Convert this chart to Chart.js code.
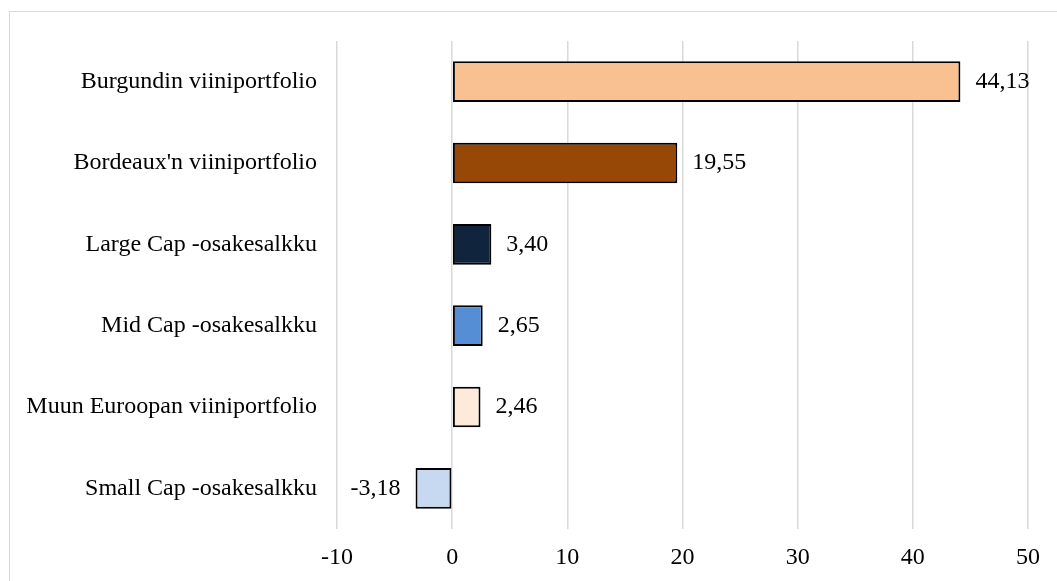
<!DOCTYPE html>
<html>
<head>
<meta charset="utf-8">
<script src="https://cdn.jsdelivr.net/npm/chart.js@4"></script>
<style>
  body { margin: 0; background: #fff; }
  #wrap { position: relative; width: 1057px; height: 581px; overflow: hidden; }
  #frame { position: absolute; left: 9px; top: 11px; width: 1100px; height: 700px; border: 1px solid #d9d9d9; }
  #myChart { position: absolute; left: 0; top: 0; }
</style>
</head>
<body>
<div id="wrap">
  <div id="frame"></div>
  <canvas id="myChart" width="1057" height="581"></canvas>
</div>
<script>
const categories = [
  'Burgundin viiniportfolio',
  "Bordeaux'n viiniportfolio",
  'Large Cap -osakesalkku',
  'Mid Cap -osakesalkku',
  'Muun Euroopan viiniportfolio',
  'Small Cap -osakesalkku'
];
const returns = [44.13, 19.55, 3.40, 2.65, 2.46, -3.18];
const barColors = ['#f9c192', '#974706', '#10243e', '#558ed5', '#fdeada', '#c6d9f1'];
const xTicks = [-10, 0, 10, 20, 30, 40, 50];

const serif = "'Liberation Serif', 'Times New Roman', serif";
const fontSize = 24;

// value labels at the end of each bar, finnish decimal comma
const valueLabels = {
  id: 'valueLabels',
  afterDatasetsDraw(chart) {
    const ctx = chart.ctx;
    const meta = chart.getDatasetMeta(0);
    ctx.save();
    ctx.font = fontSize + 'px ' + serif;
    ctx.fillStyle = '#000';
    ctx.textBaseline = 'middle';
    meta.data.forEach((bar, i) => {
      const v = returns[i];
      const txt = v.toFixed(2).replace('.', ',');
      if (v >= 0) {
        ctx.textAlign = 'left';
        ctx.fillText(txt, bar.x + 15, bar.y);
      } else {
        ctx.textAlign = 'right';
        ctx.fillText(txt, bar.x - 15, bar.y);
      }
    });
    ctx.restore();
  }
};

var ctx = document.getElementById('myChart');
var myChart = new Chart(ctx, {
  type: 'bar',
  data: {
    labels: categories,
    datasets: [{
      data: returns,
      backgroundColor: barColors,
      borderColor: '#000',
      borderWidth: 2,
      borderSkipped: false,
      barPercentage: 0.5,
      categoryPercentage: 1
    }]
  },
  options: {
    indexAxis: 'y',
    responsive: false,
    animation: false,
    layout: { padding: { top: 41, right: 29, left: 0, bottom: 0 } },
    plugins: {
      legend: { display: false },
      tooltip: { enabled: false }
    },
    scales: {
      x: {
        min: -10,
        max: 50,
        afterBuildTicks: (scale) => { scale.ticks = xTicks.map(v => ({ value: v })); },
        afterFit: (scale) => { scale.height = 52; },
        grid: { color: '#d9d9d9', lineWidth: 1.5, drawTicks: false },
        border: { display: false },
        ticks: { color: '#000', padding: 14, font: { family: serif, size: fontSize } }
      },
      y: {
        afterFit: (scale) => { scale.width = 337; },
        grid: { display: false, drawTicks: false },
        border: { display: false },
        ticks: { color: '#000', padding: 20, font: { family: serif, size: fontSize } }
      }
    }
  },
  plugins: [valueLabels]
});
</script>
</body>
</html>
